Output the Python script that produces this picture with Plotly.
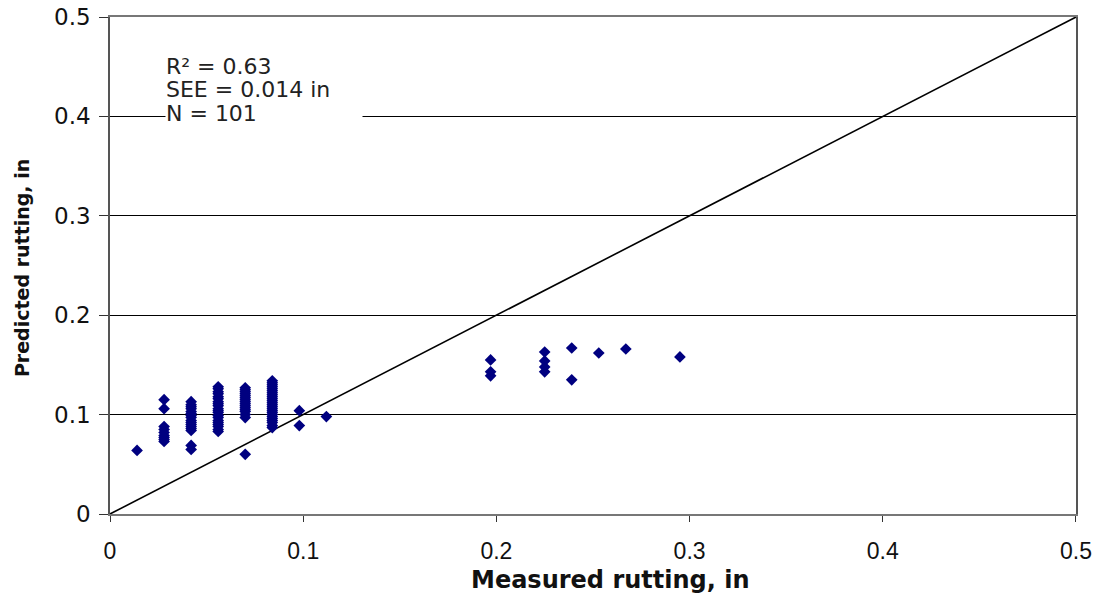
import plotly.graph_objects as go

# Measured rutting (in) values by column, with predicted rutting (in)
measured = (
    [0.014]
    + [0.028] * 9
    + [0.042] * 16
    + [0.056] * 20
    + [0.070] * 16
    + [0.084] * 24
    + [0.098] * 2
    + [0.112]
    + [0.197] * 3
    + [0.225] * 4
    + [0.239] * 2
    + [0.253]
    + [0.267]
    + [0.295]
)
predicted = (
    [0.064]
    + [0.115, 0.106, 0.088, 0.085, 0.082, 0.079, 0.077, 0.075, 0.073]
    + [0.113, 0.110, 0.108, 0.106, 0.103, 0.101, 0.099, 0.097, 0.094, 0.092,
       0.090, 0.088, 0.086, 0.084, 0.069, 0.065]
    + [0.128, 0.126, 0.123, 0.121, 0.118, 0.116, 0.113, 0.111, 0.109, 0.106,
       0.104, 0.102, 0.099, 0.097, 0.094, 0.092, 0.090, 0.088, 0.085, 0.083]
    + [0.127, 0.125, 0.123, 0.121, 0.119, 0.117, 0.115, 0.113, 0.111, 0.109,
       0.107, 0.105, 0.103, 0.100, 0.097, 0.060]
    + [0.134, 0.132, 0.130, 0.128, 0.126, 0.124, 0.122, 0.120, 0.118, 0.116,
       0.114, 0.112, 0.110, 0.108, 0.106, 0.104, 0.102, 0.100, 0.098, 0.096,
       0.094, 0.092, 0.089, 0.087]
    + [0.104, 0.089]
    + [0.098]
    + [0.155, 0.143, 0.139]
    + [0.163, 0.154, 0.148, 0.143]
    + [0.167, 0.135]
    + [0.162]
    + [0.166]
    + [0.158]
)

line_x = [0, 0.5]
line_y = [0, 0.5]
tick_vals = [0, 0.1, 0.2, 0.3, 0.4, 0.5]
tick_text = ["0", "0.1", "0.2", "0.3", "0.4", "0.5"]
stats_lines = ["R² = 0.63", "SEE = 0.014 in", "N = 101"]
stats_y = [0.4505, 0.427, 0.4035]
x_title = "Measured rutting, in"
y_title = "Predicted rutting, in"

WIDE = "DejaVu Sans, Liberation Sans, Arial, sans-serif"
PLAIN = "Liberation Sans, Arial, sans-serif"

fig = go.Figure()
fig.add_trace(go.Scatter(
    x=line_x, y=line_y, mode="lines",
    line=dict(color="black", width=1.6), hoverinfo="skip", showlegend=False,
))
fig.add_trace(go.Scatter(
    x=measured, y=predicted, mode="markers",
    marker=dict(symbol="diamond", size=9, color="#000080"),
    showlegend=False,
))

for i, (txt, yy) in enumerate(zip(stats_lines, stats_y)):
    fig.add_annotation(
        x=0.0285, y=yy, xref="x", yref="y",
        xanchor="left", yanchor="middle", align="left", showarrow=False,
        text=txt,
        font=dict(family=WIDE, size=22, color="#222"),
        bgcolor="white" if i == 2 else "rgba(0,0,0,0)",
        width=196 if i == 2 else None, height=22 if i == 2 else None,
        borderpad=0,
    )

# axis titles placed as annotations to match reference positions
fig.add_annotation(
    x=0.5176, y=-0.133, xref="paper", yref="paper",
    xanchor="center", yanchor="middle", showarrow=False,
    text="<b>" + x_title + "</b>",
    font=dict(family=WIDE, size=24, color="#111"),
)
fig.add_annotation(
    x=-0.091, y=0.495, xref="paper", yref="paper",
    xanchor="center", yanchor="middle", showarrow=False, textangle=-90,
    text="<b>" + y_title + "</b>",
    font=dict(family=WIDE, size=19, color="#111"),
)

fig.update_layout(
    width=1100, height=597,
    margin=dict(l=110, r=24, t=17, b=83),
    paper_bgcolor="white", plot_bgcolor="white",
    font=dict(family=WIDE, color="#111"),
    xaxis=dict(
        range=[0, 0.50002], tickvals=tick_vals, ticktext=tick_text,
        showgrid=False, zeroline=False, automargin=False,
        showline=True, linecolor="#777", linewidth=1.5, mirror=True,
        ticks="outside", ticklen=6, tickcolor="#333",
        ticklabelstandoff=10, ticklabeloverflow="allow",
        tickfont=dict(family=PLAIN, size=23),
    ),
    yaxis=dict(
        range=[0, 0.50002], tickvals=tick_vals, ticktext=tick_text,
        showgrid=True, gridcolor="black", gridwidth=1.2, zeroline=False,
        automargin=False,
        showline=True, linecolor="#555", linewidth=1.5, mirror=True,
        ticks="outside", ticklen=9, tickcolor="#333",
        ticklabelstandoff=4, ticklabeloverflow="allow",
        tickfont=dict(family=WIDE, size=23),
    ),
)

fig.write_html(
    "out.html",
    config={"displayModeBar": False},
    post_script="document.body.style.margin='0';",
)
